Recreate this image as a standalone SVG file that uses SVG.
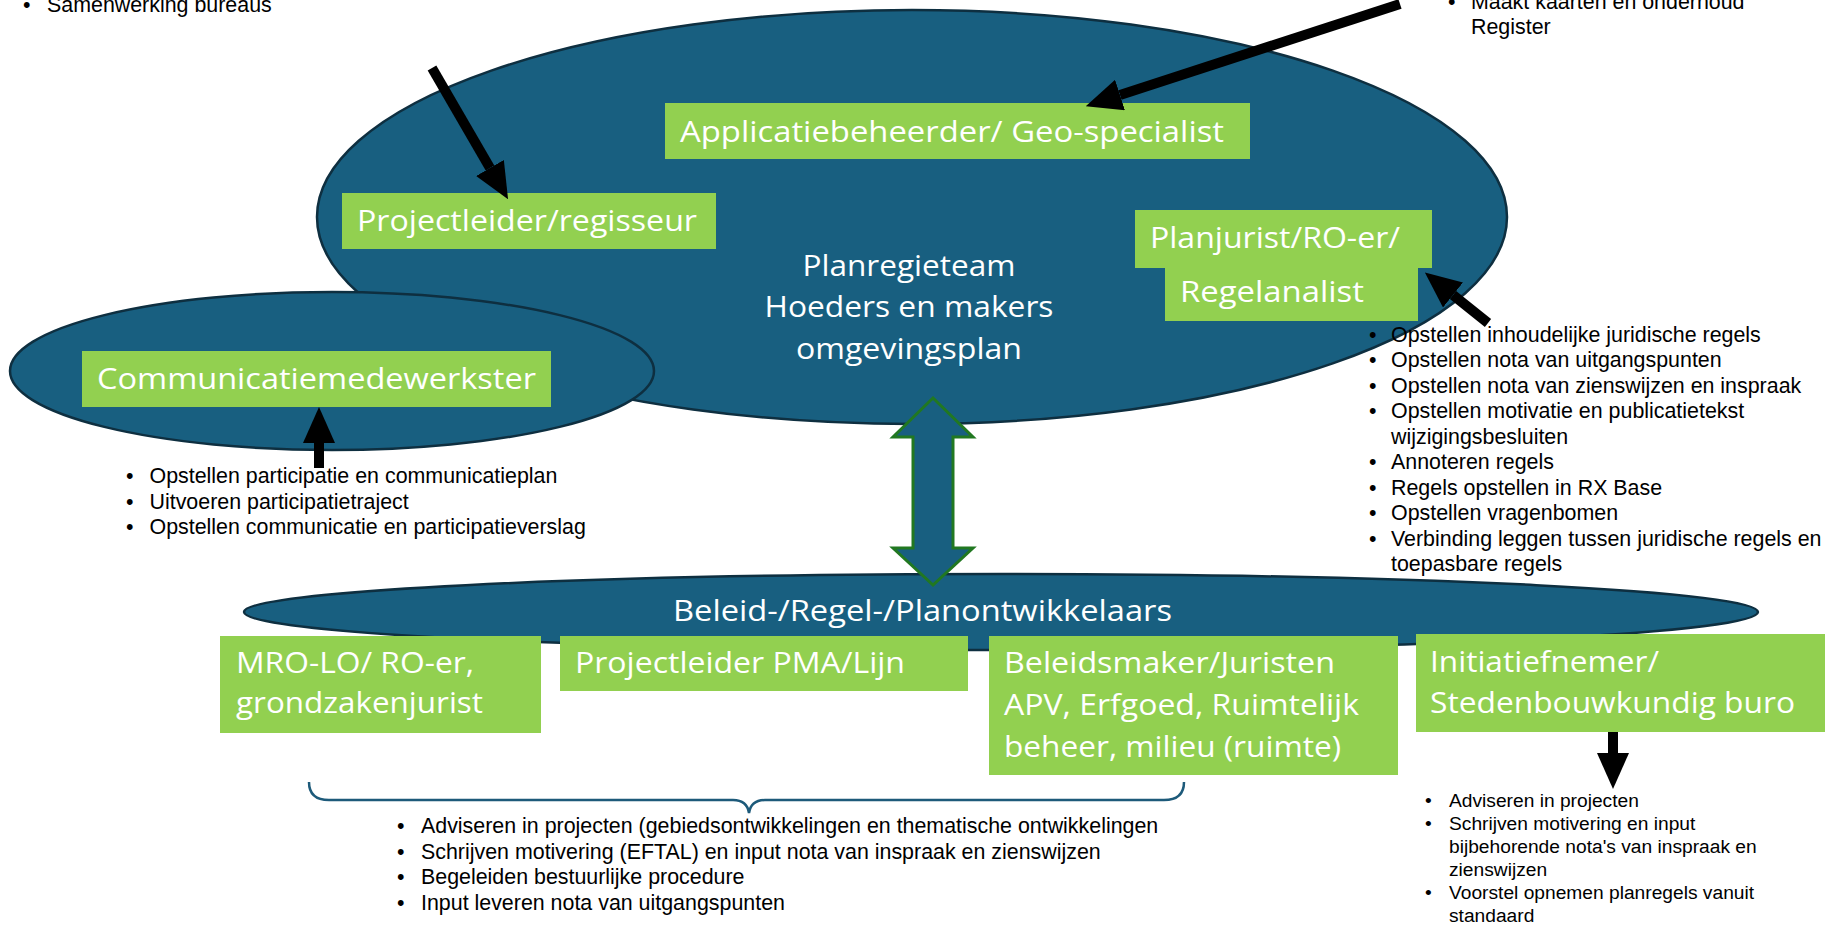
<svg xmlns="http://www.w3.org/2000/svg" width="1831" height="926" viewBox="0 0 1831 926">
<style>
.ell{fill:#185F80;stroke:#0E2F40;stroke-width:2.5}
.box{fill:#92D050}
.lbl{font-family:"Open Sans","Noto Sans",sans-serif;font-size:30px;fill:#FFFFFF}
.bl{font-family:"Liberation Sans",Arial,sans-serif;font-size:21.4px;fill:#000000}
.bs{font-family:"Liberation Sans",Arial,sans-serif;font-size:19.2px;fill:#000000}
.arr{stroke:#000000;stroke-width:10;fill:none;marker-end:url(#head)}
</style>
<defs>
<marker id="head" viewBox="0 0 36 32" refX="0" refY="16" markerUnits="userSpaceOnUse" markerWidth="36" markerHeight="32" orient="auto">
<path d="M0,0 L36,16 L0,32 Z" fill="#000000"/>
</marker>
</defs>
<rect width="1831" height="926" fill="#FFFFFF"/>

<g id="planregieteam">
<ellipse class="ell" cx="912" cy="217" rx="595" ry="207"/>
<text class="lbl" x="909" y="276" text-anchor="middle" textLength="213" lengthAdjust="spacingAndGlyphs">Planregieteam</text>
<text class="lbl" x="909" y="317" text-anchor="middle" textLength="289" lengthAdjust="spacingAndGlyphs">Hoeders en makers</text>
<text class="lbl" x="909" y="359" text-anchor="middle" textLength="226" lengthAdjust="spacingAndGlyphs">omgevingsplan</text>
</g>

<g id="communicatie-ellips">
<ellipse class="ell" cx="332" cy="371" rx="322" ry="79"/>
</g>

<g id="beleid-ellips">
<ellipse class="ell" cx="1001" cy="612" rx="757" ry="38"/>
<text class="lbl" x="673" y="621" textLength="499" lengthAdjust="spacingAndGlyphs">Beleid-/Regel-/Planontwikkelaars</text>
</g>

<g id="applicatiebeheerder">
<rect class="box" x="665" y="103" width="585" height="56"/>
<text class="lbl" x="680" y="142" textLength="544" lengthAdjust="spacingAndGlyphs">Applicatiebeheerder/ Geo-specialist</text>
</g>

<g id="projectleider">
<rect class="box" x="342" y="193" width="374" height="56"/>
<text class="lbl" x="357" y="231" textLength="340" lengthAdjust="spacingAndGlyphs">Projectleider/regisseur</text>
</g>

<g id="planjurist">
<path class="box" d="M1135,210 L1432,210 L1432,268 L1418,268 L1418,321 L1165,321 L1165,268 L1135,268 Z"/>
<text class="lbl" x="1150" y="248" textLength="250" lengthAdjust="spacingAndGlyphs">Planjurist/RO-er/</text>
<text class="lbl" x="1180" y="302" textLength="184" lengthAdjust="spacingAndGlyphs">Regelanalist</text>
</g>

<g id="communicatiemedewerkster">
<rect class="box" x="82" y="351" width="469" height="56"/>
<text class="lbl" x="97" y="389" textLength="439" lengthAdjust="spacingAndGlyphs">Communicatiemedewerkster</text>
</g>

<g id="mro-lo">
<rect class="box" x="220" y="636" width="321" height="97"/>
<text class="lbl" x="236" y="673" textLength="238" lengthAdjust="spacingAndGlyphs">MRO-LO/ RO-er,</text>
<text class="lbl" x="236" y="713" textLength="247" lengthAdjust="spacingAndGlyphs">grondzakenjurist</text>
</g>

<g id="projectleider-pma">
<rect class="box" x="560" y="636" width="408" height="55"/>
<text class="lbl" x="575" y="673" textLength="330" lengthAdjust="spacingAndGlyphs">Projectleider PMA/Lijn</text>
</g>

<g id="beleidsmaker">
<rect class="box" x="989" y="636" width="409" height="139"/>
<text class="lbl" x="1004" y="673" textLength="331" lengthAdjust="spacingAndGlyphs">Beleidsmaker/Juristen</text>
<text class="lbl" x="1004" y="715" textLength="355" lengthAdjust="spacingAndGlyphs">APV, Erfgoed, Ruimtelijk</text>
<text class="lbl" x="1004" y="757" textLength="337" lengthAdjust="spacingAndGlyphs">beheer, milieu (ruimte)</text>
</g>

<g id="initiatiefnemer">
<rect class="box" x="1416" y="634" width="409" height="98"/>
<text class="lbl" x="1430" y="672" textLength="229" lengthAdjust="spacingAndGlyphs">Initiatiefnemer/</text>
<text class="lbl" x="1430" y="713" textLength="365" lengthAdjust="spacingAndGlyphs">Stedenbouwkundig buro</text>
</g>

<g id="connectors">
<line class="arr" x1="432" y1="68" x2="490" y2="168"/>
<line class="arr" x1="1400" y1="4" x2="1120" y2="95"/>
<line class="arr" x1="1488" y1="323" x2="1453" y2="295"/>
<line class="arr" x1="319" y1="468" x2="319" y2="443"/>
<line class="arr" x1="1613" y1="732" x2="1613" y2="753"/>
<polygon points="933,398 973,437 953,437 953,548 973,548 933,585 893,548 913,548 913,437 893,437" fill="#185F80" stroke="#217821" stroke-width="3"/>
<path d="M309,782 Q309,800 329,800 L733,800 Q747,800 749,813 Q751,800 765,800 L1164,800 Q1184,800 1184,782" fill="none" stroke="#1D5A7A" stroke-width="2.5"/>
</g>

<g id="tekst-samenwerking">
<text class="bl" x="23" y="12">•</text>
<text class="bl" x="47" y="12">Samenwerking bureaus</text>
</g>

<g id="tekst-geo">
<text class="bl" x="1448" y="8.5">•</text>
<text class="bl" x="1471" y="8.5">Maakt kaarten en onderhoud</text>
<text class="bl" x="1471" y="34">Register</text>
</g>

<g id="tekst-planjurist">
<text class="bl" x="1369" y="341.7">•</text>
<text class="bl" x="1391" y="341.7">Opstellen inhoudelijke juridische regels</text>
<text class="bl" x="1369" y="367.2">•</text>
<text class="bl" x="1391" y="367.2">Opstellen nota van uitgangspunten</text>
<text class="bl" x="1369" y="392.7">•</text>
<text class="bl" x="1391" y="392.7">Opstellen nota van zienswijzen en inspraak</text>
<text class="bl" x="1369" y="418.2">•</text>
<text class="bl" x="1391" y="418.2">Opstellen motivatie en publicatietekst</text>
<text class="bl" x="1391" y="443.7">wijzigingsbesluiten</text>
<text class="bl" x="1369" y="469.2">•</text>
<text class="bl" x="1391" y="469.2">Annoteren regels</text>
<text class="bl" x="1369" y="494.7">•</text>
<text class="bl" x="1391" y="494.7">Regels opstellen in RX Base</text>
<text class="bl" x="1369" y="520.2">•</text>
<text class="bl" x="1391" y="520.2">Opstellen vragenbomen</text>
<text class="bl" x="1369" y="545.7">•</text>
<text class="bl" x="1391" y="545.7">Verbinding leggen tussen juridische regels en</text>
<text class="bl" x="1391" y="571.2">toepasbare regels</text>
</g>

<g id="tekst-communicatie">
<text class="bl" x="126" y="483">•</text>
<text class="bl" x="149.5" y="483">Opstellen participatie en communicatieplan</text>
<text class="bl" x="126" y="508.5">•</text>
<text class="bl" x="149.5" y="508.5">Uitvoeren participatietraject</text>
<text class="bl" x="126" y="534">•</text>
<text class="bl" x="149.5" y="534">Opstellen communicatie en participatieverslag</text>
</g>

<g id="tekst-beleid">
<text class="bl" x="397" y="833">•</text>
<text class="bl" x="421" y="833">Adviseren in projecten (gebiedsontwikkelingen en thematische ontwikkelingen</text>
<text class="bl" x="397" y="858.5">•</text>
<text class="bl" x="421" y="858.5">Schrijven motivering (EFTAL) en input nota van inspraak en zienswijzen</text>
<text class="bl" x="397" y="884">•</text>
<text class="bl" x="421" y="884">Begeleiden bestuurlijke procedure</text>
<text class="bl" x="397" y="909.5">•</text>
<text class="bl" x="421" y="909.5">Input leveren nota van uitgangspunten</text>
</g>

<g id="tekst-initiatiefnemer">
<text class="bs" x="1425" y="807">•</text>
<text class="bs" x="1449" y="807">Adviseren in projecten</text>
<text class="bs" x="1425" y="830">•</text>
<text class="bs" x="1449" y="830">Schrijven motivering en input</text>
<text class="bs" x="1449" y="853">bijbehorende nota's van inspraak en</text>
<text class="bs" x="1449" y="876">zienswijzen</text>
<text class="bs" x="1425" y="899">•</text>
<text class="bs" x="1449" y="899">Voorstel opnemen planregels vanuit</text>
<text class="bs" x="1449" y="922">standaard</text>
</g>
</svg>
